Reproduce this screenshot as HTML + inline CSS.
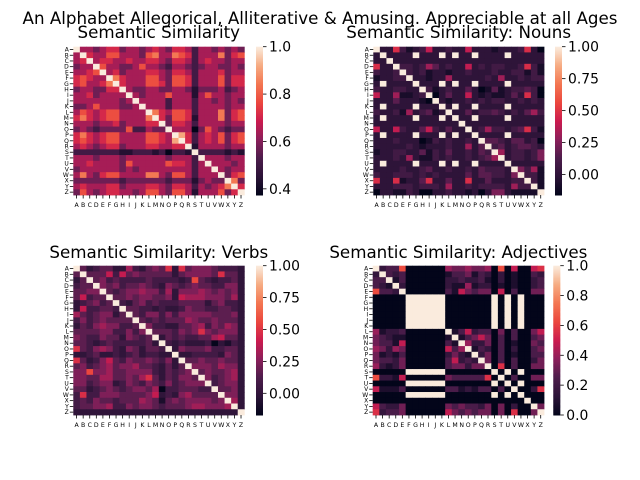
<!DOCTYPE html>
<html><head><meta charset="utf-8"><style>
html,body{margin:0;padding:0;background:#fff;}
svg{display:block;font-family:"DejaVu Sans","Liberation Sans",sans-serif;}
</style></head><body>
<svg id="fig" width="640" height="480" viewBox="0 0 640 480" xmlns="http://www.w3.org/2000/svg">
<rect width="640" height="480" fill="#fff"/>
<text x="320" y="24" text-anchor="middle" font-size="16.7">An Alphabet Allegorical, Alliterative &amp; Amusing. Appreciable at all Ages</text>
</svg>
<script>
const letters = "ABCDEFGHIJKLMNOPQRSTUVWXYZ".split("");
// upper-triangle rows (row i holds columns i+1..25), one char per cell
const simAll = ["4434553443454355424434343","544664443674476524447356","45544544554355424544344","6443346443244323443343","453444554355424445344","75444664366524446355","5444665366524446355","433443344313334234","43444644414644344","4444244424434343","444244424444344","75466524447356","5366514447356","355424444344","44403643233","8524546356","524546356","14444344","2222121","444344","44434","4344","356","73","5"];
const simNouns = ["2283123722322722212223820","2222#222#2#22#2222#22222","22222222222222222222222","3323642322723233223831","323122122322232233131","22122622222326223233","222#2#22#2222#22222","312322420141233430","02422721211242830","2122323233223232","2#22#2222#22222","22423343232463","22#2222#22222","222222222222","23633234831","2222#22222","443244230","34234432","6233235","233235","22222","5361","331","31","1"];
const simVerbs = ["4234422632454828455543332","444737454444424555548442","45343333433332394323342","5453445432543454433552","434556553625556545452","44545544527666555462","3245343334444245332","443323223544334432","43553535555544452","4343444654454442","533224456354652","44435458545552","2434334467442","323222302132","25444533442","2233332542","445445442","55546552","4544562","534562","34552","4452","552","62","2"];
const simAdj = ["2338000000544544508060067","323000000133413202010032","13000000223223102010023","2000000211512201010023","000000316434406030044","#####0000000#0#0#000","####0000000#0#0#000","###0000000#0#0#000","##0000000#0#0#000","#0000000#0#0#000","0000000#0#0#000","13623304030046","1346403030034","522403010043","13203020034","2403010033","403030024","07030044","0#0#000","030044","0#000","0027","000","00","4"];
const ticksAll = [0.4,0.6,0.8,1.0];
const ticksNV = [0.00,0.25,0.50,0.75,1.00];
const ticksAdj = [0.0,0.2,0.4,0.6,0.8,1.0];

const stops=[[0,'#03051A'],[0.125,'#2B1337'],[0.25,'#4C1D4B'],[0.375,'#8A1F5B'],[0.5,'#CB1B4F'],[0.625,'#EB463E'],[0.75,'#F37651'],[0.875,'#F6AB82'],[1,'#FAEBDD']];
function hex(h){return [parseInt(h.substr(1,2),16),parseInt(h.substr(3,2),16),parseInt(h.substr(5,2),16)];}
function cmap(t){t=Math.max(0,Math.min(1,t));for(let k=1;k<stops.length;k++){if(t<=stops[k][0]){const a=stops[k-1],b=stops[k];const f=(t-a[0])/(b[0]-a[0]);const ca=hex(a[1]),cb=hex(b[1]);return 'rgb('+ca.map((v,i)=>Math.round(v+(cb[i]-v)*f)).join(',')+')';}}return stops[stops.length-1][1];}
function build(rows,dec){const n=26;const M=[];for(let i=0;i<n;i++){M.push(new Array(n).fill(1));}
for(let i=0;i<n-1;i++){for(let j=i+1;j<n;j++){const ch=rows[i][j-i-1];const v=ch==='#'?1:dec(parseInt(ch,10));M[i][j]=v;M[j][i]=v;}}return M;}
const NS="http://www.w3.org/2000/svg";
const svg=document.getElementById('fig');
function el(tag,attrs,parent){const e=document.createElementNS(NS,tag);for(const k in attrs)e.setAttribute(k,attrs[k]);(parent||svg).appendChild(e);return e;}
const panels=[
 {name:'all',title:'Semantic Similarity',M:build(simAll,d=>0.37+d*0.068),x:73.3,y:46.7,w:171,h:148.3,cb:256,vmin:0.374,vmax:1.0,ticks:ticksAll,fmt:1,ty:38},
 {name:'nouns',title:'Semantic Similarity: Nouns',M:build(simNouns,d=>(d-2)*0.08),x:373.3,y:46.7,w:170.7,h:148.3,cb:555,vmin:-0.16,vmax:1.0,ticks:ticksNV,fmt:2,ty:38},
 {name:'verbs',title:'Semantic Similarity: Verbs',M:build(simVerbs,d=>(d-2)*0.08),x:73.3,y:265.7,w:171,h:149.3,cb:256,vmin:-0.17,vmax:1.0,ticks:ticksNV,fmt:2,ty:258},
 {name:'adjectives',title:'Semantic Similarity: Adjectives',M:build(simAdj,d=>d*0.08),x:372.7,y:265.7,w:171.3,h:149.3,cb:553.3,vmin:0,vmax:1.0,ticks:ticksAdj,fmt:1,ty:258}
];
panels.forEach(p=>{
 const g=el('g',{});
 
 
 const n=26,cw=p.w/n,chh=p.h/n;
 const xs=i=>p.x+i*cw, ys=i=>p.y+i*chh;
 const norm=v=>(v-p.vmin)/(p.vmax-p.vmin);
 for(let i=0;i<n;i++)for(let j=0;j<n;j++){
  const r=el('rect',{x:xs(j).toFixed(2),y:ys(i).toFixed(2),width:(cw+0.4).toFixed(2),height:(chh+0.4).toFixed(2),fill:cmap(norm(p.M[i][j]))},g);
  
  
 }
 const t=el('text',{x:p.x+p.w/2,y:p.ty,'text-anchor':'middle','font-size':'16.7'});
 t.textContent=p.title;
 
 
 for(let i=0;i<n;i++){
  const cy=ys(i)+chh/2;
  el('line',{x1:p.x-3.5,x2:p.x,y1:cy,y2:cy,stroke:'#000','stroke-width':0.8},g);
  const yl=el('text',{x:p.x-4.5,y:cy+2,'text-anchor':'end','font-size':'6'},g);
  yl.textContent=letters[i];
  
  
  const cx=xs(i)+cw/2;
  el('line',{x1:cx,x2:cx,y1:p.y+p.h,y2:p.y+p.h+3.5,stroke:'#000','stroke-width':0.8},g);
  const xl=el('text',{x:cx,y:p.y+p.h+12,'text-anchor':'middle','font-size':'6.2'},g);
  xl.textContent=letters[i];
  
  
 }
 const cbg=el('g',{});
 
 
 const cbw=7,steps=120;
 for(let k=0;k<steps;k++){
  const y0=p.y+p.h*(1-(k+1)/steps);
  el('rect',{x:p.cb,y:y0.toFixed(2),width:cbw,height:(p.h/steps+0.5).toFixed(2),fill:cmap((k+0.5)/steps)},cbg);
 }
 p.ticks.forEach(v=>{
  const ty=p.y+p.h*(1-norm(v));
  el('line',{x1:p.cb+cbw,x2:p.cb+cbw+3.5,y1:ty,y2:ty,stroke:'#000','stroke-width':0.8},cbg);
  const tl=el('text',{x:p.cb+cbw+6,y:ty+5,'font-size':'13.9'},cbg);
  tl.textContent=v.toFixed(p.fmt);
  
  
 });
});
</script>
</body></html>
